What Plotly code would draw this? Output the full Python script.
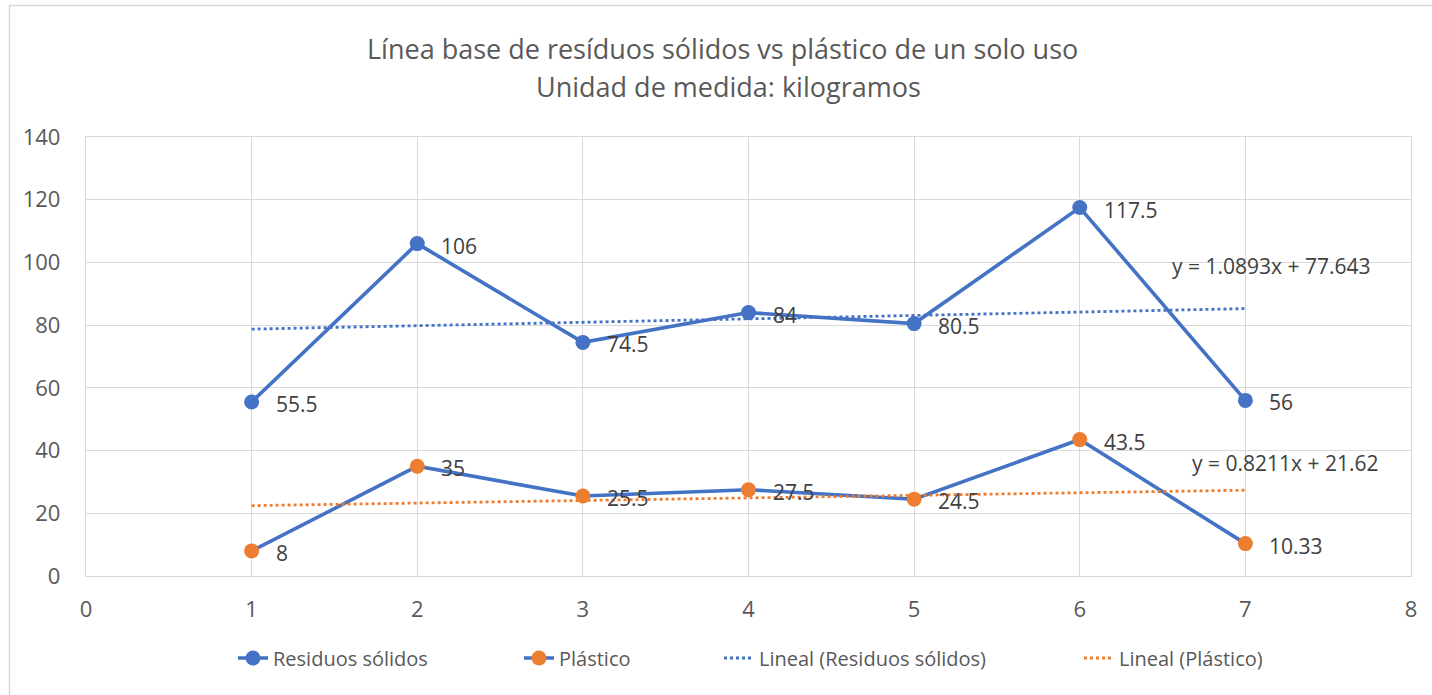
import plotly.graph_objects as go

# ---- data ----
days = [1, 2, 3, 4, 5, 6, 7]
residuos = [55.5, 106, 74.5, 84, 80.5, 117.5, 56]
plastico = [8, 35, 25.5, 27.5, 24.5, 43.5, 10.33]
residuos_labels = ["55.5", "106", "74.5", "84", "80.5", "117.5", "56"]
plastico_labels = ["8", "35", "25.5", "27.5", "24.5", "43.5", "10.33"]
trend_res = (1.0893, 77.643)   # slope, intercept
trend_pla = (0.8211, 21.62)
x_ticks = [0, 1, 2, 3, 4, 5, 6, 7, 8]
y_ticks = [0, 20, 40, 60, 80, 100, 120, 140]

BLUE = "#4472C4"
ORANGE = "#ED7D31"
TXT = "#595959"
LBL = "#404040"
GRID = "#D9D9D9"
FONT = "Open Sans"

W, H = 1432, 695
ML, MR, MT, MB = 86, 21, 137, 119
pw, ph = W - ML - MR, H - MT - MB

def px2paper_x(px):
    return (px - ML) / pw

def px2paper_y(py):
    return (H - MB - py) / ph

fig = go.Figure()

fig.add_trace(go.Scatter(x=days, y=residuos, mode="lines+markers", name="Residuos sólidos",
                         line=dict(color=BLUE, width=3.6),
                         marker=dict(color=BLUE, size=15), legend="legend"))
fig.add_trace(go.Scatter(x=days, y=plastico, mode="lines+markers", name="Plástico",
                         line=dict(color=BLUE, width=3.6),
                         marker=dict(color=ORANGE, size=15), legend="legend2"))

tx = [days[0], days[-1]]
fig.add_trace(go.Scatter(x=tx, y=[trend_res[0] * v + trend_res[1] for v in tx], mode="lines",
                         name="Lineal (Residuos sólidos)",
                         line=dict(color=BLUE, width=2.8, dash="dot"), legend="legend3"))
fig.add_trace(go.Scatter(x=tx, y=[trend_pla[0] * v + trend_pla[1] for v in tx], mode="lines",
                         name="Lineal (Plástico)",
                         line=dict(color=ORANGE, width=2.8, dash="dot"), legend="legend4"))

annotations = []
for xs, ys, labs in [(days, residuos, residuos_labels), (days, plastico, plastico_labels)]:
    for xv, yv, t in zip(xs, ys, labs):
        annotations.append(dict(x=xv, y=yv, text=t, showarrow=False, xanchor="left",
                                yanchor="middle", xshift=22, yshift=-2,
                                font=dict(family=FONT, size=21, color=LBL)))

annotations.append(dict(x=7.156, y=98.9, text="y = %.4fx + %.3f" % trend_res, showarrow=False,
                        xanchor="center", yanchor="middle",
                        font=dict(family=FONT, size=21, color=LBL)))
annotations.append(dict(x=7.24, y=36.0, text="y = %.4fx + %.2f" % trend_pla, showarrow=False,
                        xanchor="center", yanchor="middle",
                        font=dict(family=FONT, size=21, color=LBL)))

annotations.append(dict(xref="paper", yref="paper", x=px2paper_x(722), y=px2paper_y(48),
                        text="Línea base de resíduos sólidos vs plástico de un solo uso",
                        showarrow=False, xanchor="center", yanchor="middle",
                        font=dict(family=FONT, size=27, color=TXT)))
annotations.append(dict(xref="paper", yref="paper", x=px2paper_x(728), y=px2paper_y(87),
                        text="Unidad de medida: kilogramos",
                        showarrow=False, xanchor="center", yanchor="middle",
                        font=dict(family=FONT, size=27, color=TXT)))

shapes = [dict(type="rect", xref="paper", yref="paper",
               x0=px2paper_x(9.5), x1=px2paper_x(1500), y0=px2paper_y(800), y1=px2paper_y(5.5),
               line=dict(color="#D9D9D9", width=1.5), fillcolor="rgba(0,0,0,0)", layer="below")]

def leg(text_start_px):
    return dict(orientation="h", x=px2paper_x(text_start_px - 41), xanchor="left",
                y=px2paper_y(658), yanchor="middle", bgcolor="rgba(0,0,0,0)",
                font=dict(family=FONT, size=20, color=TXT))

fig.update_layout(
    width=W, height=H,
    margin=dict(l=ML, r=MR, t=MT, b=MB),
    paper_bgcolor="white", plot_bgcolor="white",
    font=dict(family=FONT, color=TXT),
    showlegend=True,
    legend=leg(274), legend2=leg(560), legend3=leg(760), legend4=leg(1120),
    annotations=annotations,
    shapes=shapes,
)
fig.update_xaxes(range=[0, 8], tickvals=x_ticks, showgrid=True, gridcolor=GRID, gridwidth=1.3,
                 zeroline=False, showline=True, linecolor=GRID, linewidth=1.3, mirror=True,
                 ticks="", ticklabelstandoff=13, tickfont=dict(family=FONT, size=22, color=TXT))
fig.update_yaxes(range=[0, 140], tickvals=y_ticks, showgrid=True, gridcolor=GRID, gridwidth=1.3,
                 zeroline=False, showline=True, linecolor=GRID, linewidth=1.3, mirror=True,
                 ticks="", ticklabelstandoff=20, tickfont=dict(family=FONT, size=22, color=TXT))

fig.write_html("out.html", config={"displayModeBar": False},
               post_script="document.body.style.margin='0';")
